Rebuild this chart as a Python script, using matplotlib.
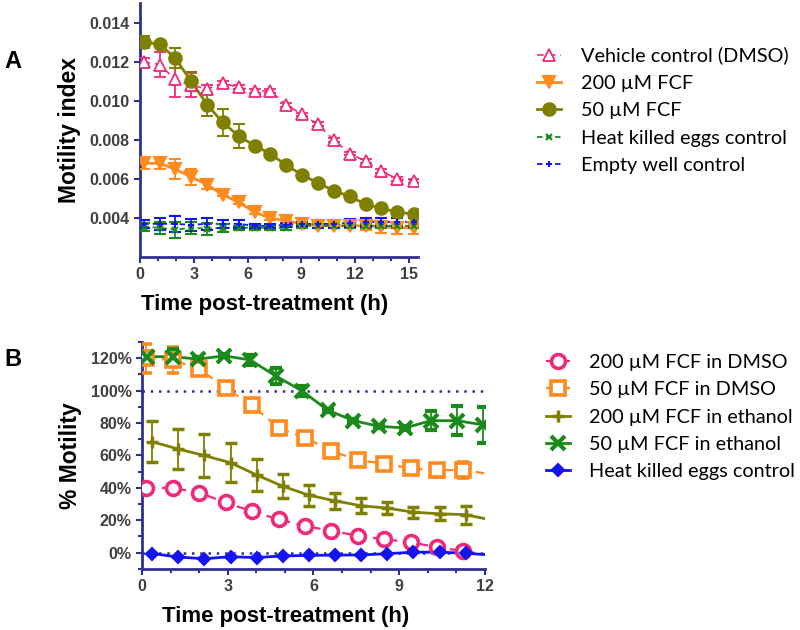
import matplotlib
matplotlib.use("Agg")
import matplotlib.pyplot as plt
from matplotlib.lines import Line2D
from matplotlib.ticker import MultipleLocator, FuncFormatter

# ---------------- data, panel A (motility index) ----------------
tA = [0.2, 1.1, 1.95, 2.85, 3.75, 4.6, 5.5, 6.4, 7.25, 8.15, 9.05, 9.9,
      10.8, 11.7, 12.6, 13.45, 14.35, 15.25]

vehicle = [0.0120, 0.01185, 0.0111, 0.0108, 0.0106, 0.0109, 0.0107, 0.0105, 0.0105,
           0.0098, 0.0093, 0.0088, 0.0080, 0.0073, 0.0069, 0.0064, 0.0060, 0.0059]
vehicle_err = [0.0002, 0.00065, 0.0009, 0.0006, 0.0002, 0.0001, 0.0001, 0.0001, 0.0001,
               0.0001, 0.0001, 0.0001, 0.0001, 0.0001, 0.0001, 0.0001, 0.0001, 0.0001]

fcf200 = [0.0068, 0.0068, 0.0065, 0.0061, 0.0057, 0.0052, 0.0048, 0.0043, 0.0040,
          0.00385, 0.0037, 0.0036, 0.0036, 0.0036, 0.0036, 0.00355, 0.0035, 0.0035]
fcf200_err = [0.0003, 0.0003, 0.0005, 0.0004, 0.0002, 0.0001, 0.0001, 0.0001, 0.0001,
              0.0001, 0.0001, 0.0001, 0.0001, 0.0001, 0.0002, 0.0003, 0.0003, 0.0003]

fcf50 = [0.0130, 0.0129, 0.0122, 0.0110, 0.0098, 0.0089, 0.0082, 0.0077, 0.0073,
         0.0067, 0.0062, 0.0058, 0.0054, 0.0051, 0.0047, 0.0045, 0.0043, 0.0042]
fcf50_err = [0.0003, 0.0001, 0.0005, 0.0005, 0.0006, 0.0007, 0.0006, 0.0001, 0.0001,
             0.0001, 0.0001, 0.0001, 0.0001, 0.0001, 0.0001, 0.0001, 0.0001, 0.0001]

heat_A = [0.00355, 0.0035, 0.0034, 0.0035, 0.00345, 0.0035, 0.0035, 0.0035, 0.0035,
          0.0035, 0.0036, 0.0036, 0.0036, 0.0036, 0.0036, 0.0036, 0.0036, 0.0036]
heat_A_err = [0.0002, 0.0003, 0.0004, 0.0003, 0.0003, 0.0002, 0.0001, 0.0001, 0.0001,
              0.0001, 0.0001, 0.0001, 0.0001, 0.0001, 0.0001, 0.0001, 0.0001, 0.0001]

empty_A = [0.0037, 0.0037, 0.0037, 0.00365, 0.0037, 0.0037, 0.0037, 0.0036, 0.0036,
           0.00365, 0.0037, 0.0037, 0.0037, 0.00375, 0.0038, 0.0038, 0.0038, 0.0038]
empty_A_err = [0.0002, 0.0003, 0.0004, 0.0003, 0.0003, 0.0002, 0.0002, 0.0001, 0.0001,
               0.0001, 0.0001, 0.0002, 0.0002, 0.0002, 0.0002, 0.0002, 0.0002, 0.0002]

# ---------------- data, panel B (% motility) ----------------
# last value of each list sits at 12 h (line only, no marker)
t_dmso = [0.15, 1.07, 2.0, 2.93, 3.85, 4.78, 5.7, 6.63, 7.55, 8.48, 9.4, 10.33, 11.25, 12.0]
dmso200 = [40, 40, 37, 31, 25.5, 20.5, 16.5, 13.5, 10.5, 8.2, 6.5, 3.3, 1.0, -1.0]
dmso200_err = [1, 1, 1, 1, 1, 1, 1, 1, 1, 1, 1, 2, 2.5, 0]
dmso50 = [120, 119, 113.5, 101.5, 91, 77, 71, 63, 57, 55, 52, 51, 51, 49]
dmso50_err = [9, 8, 2, 2, 2, 2, 2, 2, 2, 2, 2, 4, 5, 0]

t_eth = [0.35, 1.27, 2.18, 3.1, 4.01, 4.93, 5.84, 6.76, 7.67, 8.59, 9.5, 10.42, 11.33, 12.0]
eth200 = [68.5, 64, 60, 55.5, 48, 41, 35.5, 32, 29, 27.5, 25, 24, 23.5, 21]
eth200_err = [12.5, 12.5, 13, 12, 10, 7.5, 6.5, 5, 4.5, 3.5, 3.5, 4, 5.5, 0]
heat_B = [-0.5, -2.7, -3.7, -2.5, -3.0, -2.0, -1.7, -1.5, -1.4, -0.6, 0.3, 0.3, -0.3, -1.2]
heat_B_err = [0.5] * 13 + [0]

t_eth50 = [0.16, 1.07, 1.97, 2.88, 3.78, 4.69, 5.59, 6.5, 7.4, 8.3, 9.21, 10.11, 11.02, 11.92]
eth50 = [121, 121, 119.5, 121.5, 119, 109, 100, 88, 81.5, 78, 77, 81.5, 81.5, 79]
eth50_err = [2, 5, 1, 1, 3, 5, 3, 1, 1, 1, 1, 6, 9, 11]

labels_A = ["Vehicle control (DMSO)", "200 \u00b5M FCF", "50 \u00b5M FCF",
            "Heat killed eggs control", "Empty well control"]
labels_B = ["200 \u00b5M FCF in DMSO", "50 \u00b5M FCF in DMSO", "200 \u00b5M FCF in ethanol",
            "50 \u00b5M FCF in ethanol", "Heat killed eggs control"]

NAVY = "#2e3192"
PINK = "#ee2a7b"
ORANGE = "#ff8a1e"
OLIVE = "#808000"
GREEN = "#1a8a1a"
BLUE = "#1414f0"

plt.rcParams["font.family"] = ["Liberation Sans", "DejaVu Sans"]

fig = plt.figure(figsize=(8, 6.3), dpi=100)
axA = fig.add_axes([0.175, 0.592, 0.3475, 0.403])
axB = fig.add_axes([0.1775, 0.097, 0.4285, 0.36])


def style_axes(ax):
    for s in ["top", "right"]:
        ax.spines[s].set_visible(False)
    for s in ["left", "bottom"]:
        ax.spines[s].set_color(NAVY)
        ax.spines[s].set_linewidth(2)
    ax.tick_params(which="both", direction="out", color=NAVY, width=1.5,
                   labelcolor="#404040", labelsize=11.5)
    ax.tick_params(which="major", length=4)
    ax.tick_params(which="minor", length=3)
    for lab in ax.get_xticklabels() + ax.get_yticklabels():
        lab.set_fontweight("bold")


def series(ax, t, y, err, marker, color, ls, lw, ms, mfc=None, mew=1.5, nmark=None):
    n = len(t) if nmark is None else nmark
    ax.plot(t, y, ls=ls, color=color, lw=lw, zorder=2)
    ax.errorbar(t[:n], y[:n], yerr=err[:n], fmt=marker, color=color, ms=ms,
                mfc=mfc if mfc else color, mec=color, mew=mew, capsize=4.5,
                elinewidth=1.3, capthick=1.3, zorder=3)
    return Line2D([], [], ls=ls, color=color, lw=lw, marker=marker, ms=ms,
                  mfc=mfc if mfc else color, mec=color, mew=mew)


# ---------------- panel A ----------------
hA = []
hA.append(series(axA, tA, vehicle, vehicle_err, "^", PINK, (0, (4, 3)), 1.2, 8.5, mfc="white", mew=1.3))
hA.append(series(axA, tA, fcf200, fcf200_err, "v", ORANGE, "-", 2, 8.5))
hA.append(series(axA, tA, fcf50, fcf50_err, "o", OLIVE, "-", 2, 9))
hA.append(series(axA, tA, heat_A, heat_A_err, "x", GREEN, (0, (3, 2)), 1.3, 4, mew=1.5))
hA.append(series(axA, tA, empty_A, empty_A_err, "+", BLUE, (0, (3, 2)), 1.3, 5, mew=1.5))

axA.set_xlim(0, 15.5)
axA.set_ylim(0.002, 0.015)
axA.set_xticks([0, 3, 6, 9, 12, 15])
axA.xaxis.set_minor_locator(MultipleLocator(1))
axA.set_yticks([0.004, 0.006, 0.008, 0.010, 0.012, 0.014])
axA.yaxis.set_major_formatter(FuncFormatter(lambda v, p: f"{v:.3f}"))
style_axes(axA)
axA.set_xlabel("Time post-treatment (h)", fontsize=16, fontweight="bold")
axA.xaxis.set_label_coords(0.447, -0.145)
axA.set_ylabel("Motility index", fontsize=16.5, fontweight="bold", labelpad=6)

# ---------------- panel B ----------------
axB.axhline(100, color=NAVY, ls=(0, (1, 2.3)), lw=1.8, zorder=1)
axB.axhline(0, color=NAVY, ls=(0, (1, 2.3)), lw=1.8, zorder=1)
hB = []
hB.append(series(axB, t_dmso, dmso200, dmso200_err, "o", PINK, (0, (4, 3)), 1.6, 10, mfc="white", mew=2.6, nmark=13))
hB.append(series(axB, t_dmso, dmso50, dmso50_err, "s", ORANGE, (0, (4, 3)), 1.6, 10, mfc="white", mew=2.6, nmark=13))
hB.append(series(axB, t_eth, eth200, eth200_err, "+", OLIVE, "-", 2, 9, mew=2.5, nmark=13))
hB.append(series(axB, t_eth50, eth50, eth50_err, "x", GREEN, "-", 2, 10, mew=3))
hB.append(series(axB, t_eth, heat_B, heat_B_err, "D", BLUE, "-", 2, 6.5, nmark=13))

axB.set_xlim(0, 12)
axB.set_ylim(-10, 130)
axB.set_xticks([0, 3, 6, 9, 12])
axB.xaxis.set_minor_locator(MultipleLocator(1))
axB.set_yticks([0, 20, 40, 60, 80, 100, 120])
axB.yaxis.set_minor_locator(MultipleLocator(10))
axB.yaxis.set_major_formatter(FuncFormatter(lambda v, p: f"{v:.0f}%"))
style_axes(axB)
axB.set_xlabel("Time post-treatment (h)", fontsize=16, fontweight="bold")
axB.xaxis.set_label_coords(0.42, -0.165)
axB.set_ylabel("% Motility", fontsize=16.5, fontweight="bold", labelpad=6)

# ---------------- legends and panel letters ----------------
leg_kw = dict(loc="upper left", frameon=False, handlelength=1.2,
              labelspacing=0.52, borderaxespad=0, borderpad=0,
              prop={"family": ["Lato", "DejaVu Sans"], "size": 14.3})
fig.legend(hA, labels_A, bbox_to_anchor=(0.671, 0.926), handletextpad=1.05, **leg_kw)
fig.legend(hB, labels_B, bbox_to_anchor=(0.6825, 0.438), handletextpad=0.95, **leg_kw)

fig.text(0.006, 0.902, "A", fontsize=17, fontweight="bold", va="center")
fig.text(0.006, 0.43, "B", fontsize=17, fontweight="bold", va="center")

fig.savefig("out.png", dpi=100)
